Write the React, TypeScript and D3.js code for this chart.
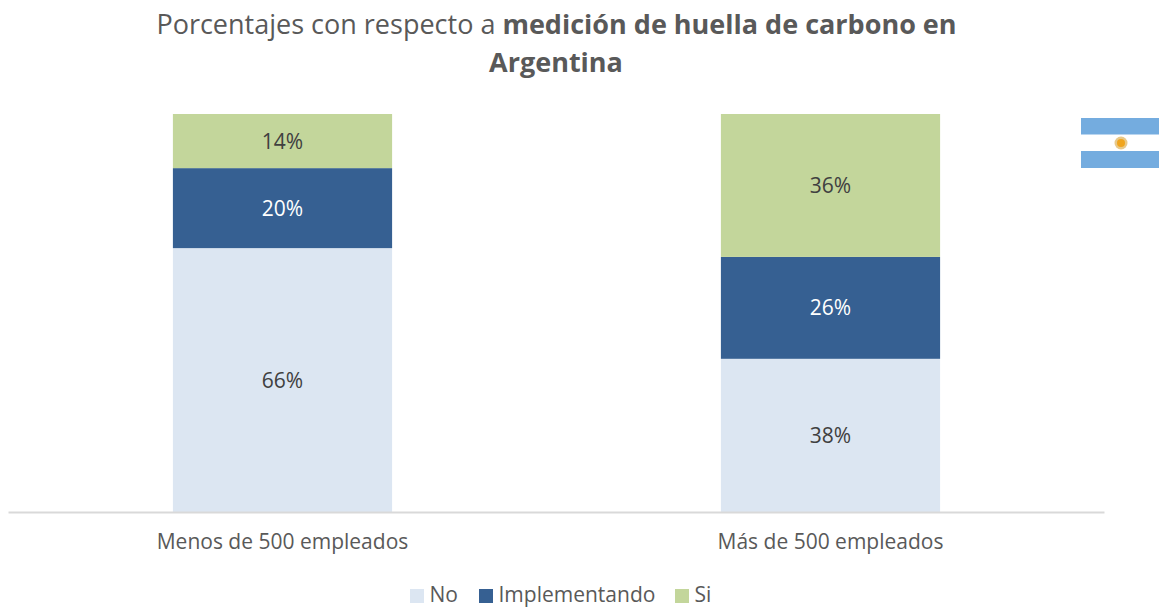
import React from "react";
import * as d3 from "d3";

const categories = ["Menos de 500 empleados", "Más de 500 empleados"];
const seriesNames = ["No", "Implementando", "Si"];
const noValues = [66.3, 38.49];
const implementandoValues = [20.1, 25.6];
const siValues = [13.6, 35.91];
const seriesColors = ["#DCE6F2", "#366092", "#C3D69B"];
const labelColors = ["#404040", "#FFFFFF", "#404040"];
const FONT = "'Open Sans', sans-serif";

const rows = categories.map((c, i) => ({
  category: c,
  No: noValues[i],
  Implementando: implementandoValues[i],
  Si: siValues[i],
}));

export default function App() {
  const x = d3.scaleBand<string>().domain(categories).range([8.5, 1104.5]).paddingInner(0.6).paddingOuter(0.3);
  const y = d3.scaleLinear().domain([0, 100]).range([512, 114]);
  const stacked = d3.stack<any>().keys(seriesNames)(rows);
  const legendX = [410, 479, 675];
  return (
    <svg width={1159} height={607} style={{ position: "absolute", left: 0, top: 0, background: "#fff", fontFamily: FONT }}>
      <text x={556.5} y={34} textAnchor="middle" fontSize={27} fill="#595959">
        Porcentajes con respecto a <tspan fontWeight={700}>medición de huella de carbono en</tspan>
      </text>
      <text x={556} y={72} textAnchor="middle" fontSize={27} fontWeight={700} fill="#595959">Argentina</text>

      {stacked.map((s, si) => (
        <g key={s.key}>
          {s.map((d, i) => (
            <g key={i}>
              <rect x={x(categories[i])} width={x.bandwidth()} y={y(d[1])} height={y(d[0]) - y(d[1])} fill={seriesColors[si]} />
              <text x={x(categories[i])! + x.bandwidth() / 2} y={(y(d[0]) + y(d[1])) / 2 + 7.5} textAnchor="middle" fontSize={21} fill={labelColors[si]}>
                {Math.round(d[1] - d[0])}%
              </text>
            </g>
          ))}
        </g>
      ))}

      <line x1={8.5} x2={1104.5} y1={512.5} y2={512.5} stroke="#D9D9D9" strokeWidth={2} />
      {categories.map((c) => (
        <text key={c} x={x(c)! + x.bandwidth() / 2} y={549} textAnchor="middle" fontSize={21} fill="#595959">{c}</text>
      ))}

      {seriesNames.map((n, i) => (
        <g key={n}>
          <rect x={legendX[i]} y={589} width={14} height={14} fill={seriesColors[i]} />
          <text x={legendX[i] + 19.5} y={602} fontSize={21} fill="#595959">{n}</text>
        </g>
      ))}

      <g>
        <rect x={1081} y={118} width={78} height={16.5} fill="#74ACDF" />
        <rect x={1081} y={151} width={78} height={17} fill="#74ACDF" />
        <circle cx={1121} cy={143} r={6.5} fill="#E8C98A" />
        <circle cx={1121} cy={143} r={4} fill="#F0A51E" />
      </g>
    </svg>
  );
}
